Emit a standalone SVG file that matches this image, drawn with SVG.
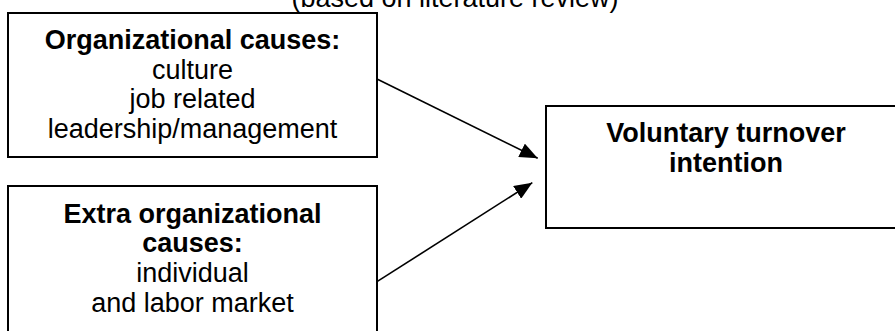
<svg xmlns="http://www.w3.org/2000/svg" width="895" height="331" viewBox="0 0 895 331">
<style>
.box{fill:#fff;stroke:#000;stroke-width:2}
text{font-family:"Liberation Sans",Arial,sans-serif;font-size:27px;fill:#000;text-anchor:middle}
.b{font-weight:bold}
.conn{stroke:#000;stroke-width:1.6;fill:none}
</style>
<defs>
<marker id="ah" markerUnits="userSpaceOnUse" markerWidth="19" markerHeight="15" refX="18" refY="7.5" orient="auto">
<path d="M0,0 L18,7.5 L0,15 z" fill="#000"/>
</marker>
</defs>
<text id="title" x="455" y="7">(based on literature review)</text>
<g id="org">
<rect class="box" x="8" y="13" width="369" height="144"/>
<text class="b" x="192.5" y="49">Organizational causes:</text>
<text x="192.5" y="78.5">culture</text>
<text x="192.5" y="108">job related</text>
<text x="192.5" y="137.5">leadership/management</text>
</g>
<g id="extra">
<rect class="box" x="8" y="186" width="369" height="160"/>
<text class="b" x="192.5" y="222.5">Extra organizational</text>
<text class="b" x="192.5" y="252">causes:</text>
<text x="192.5" y="282">individual</text>
<text x="192.5" y="312">and labor market</text>
</g>
<g id="vti">
<rect class="box" x="546" y="106" width="360" height="122"/>
<text class="b" x="726" y="141.7">Voluntary turnover</text>
<text class="b" x="726" y="171.7">intention</text>
</g>
<g id="connectors">
<line class="conn" x1="377" y1="79" x2="537.7" y2="158.3" marker-end="url(#ah)"/>
<line class="conn" x1="377" y1="281.7" x2="532.3" y2="182.7" marker-end="url(#ah)"/>
</g>
</svg>
